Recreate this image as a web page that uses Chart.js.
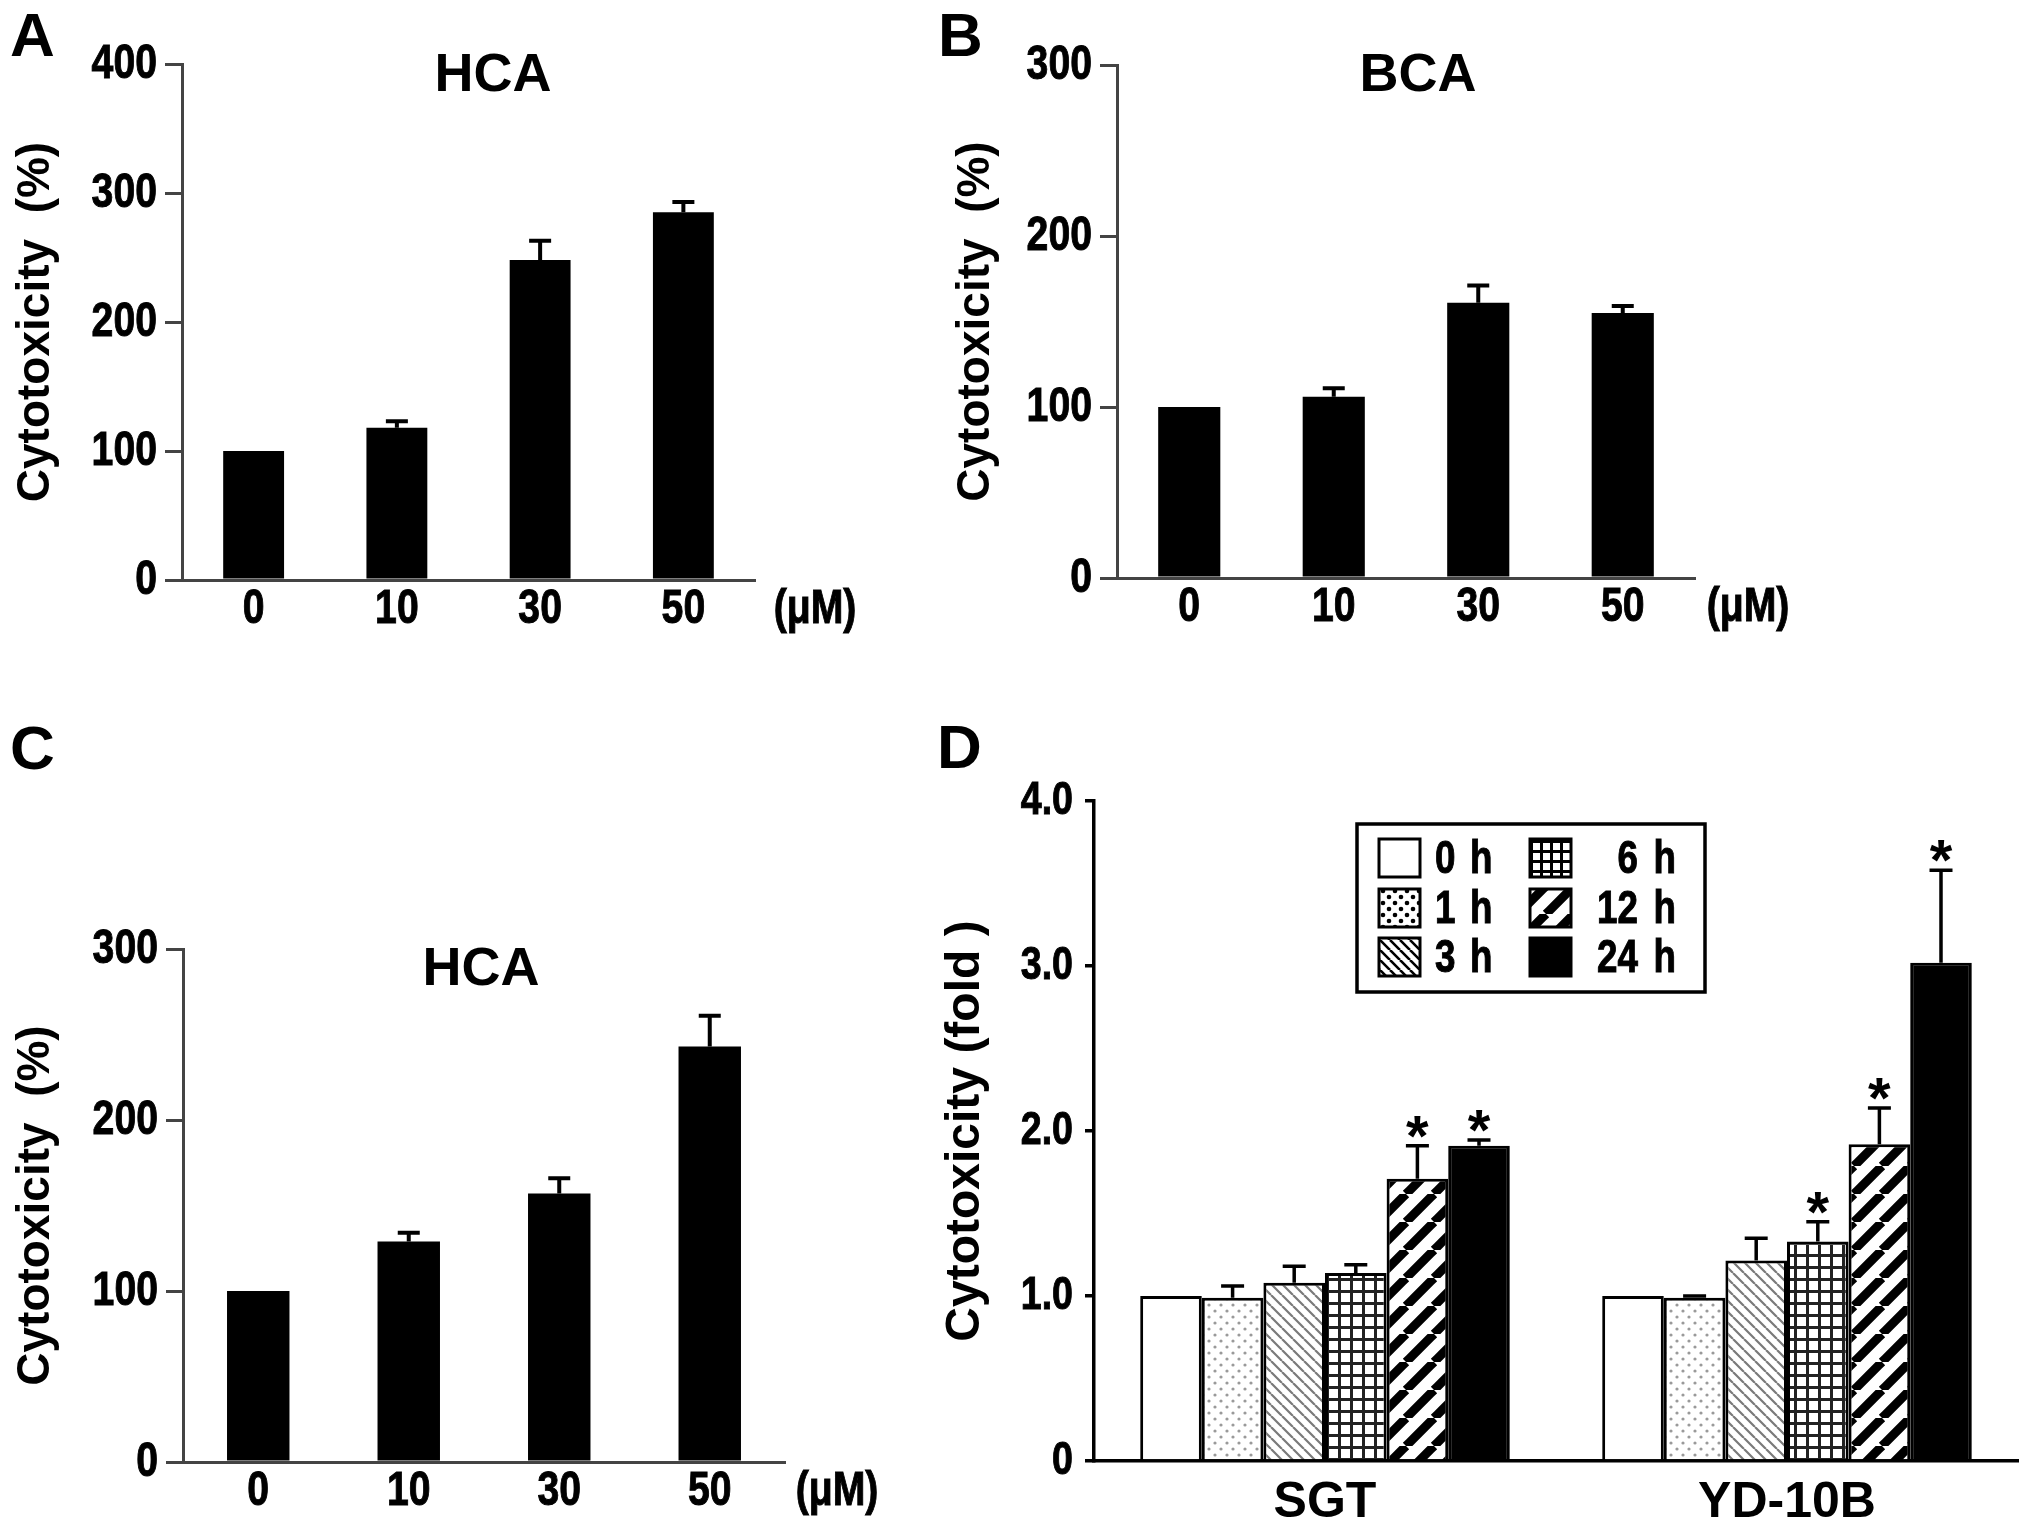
<!DOCTYPE html>
<html>
<head>
<meta charset="utf-8">
<script src="https://cdn.jsdelivr.net/npm/chart.js@4.4.1/dist/chart.umd.min.js"></script>
<style>
    html, body { margin: 0; padding: 0; background: #fff; }
    body { width: 2031px; height: 1527px; position: relative; overflow: hidden; }
    canvas { position: absolute; }
</style>
</head>
<body>
<canvas id="panelA" width="900" height="700" style="left:0px;top:0px"></canvas>
<canvas id="panelB" width="900" height="700" style="left:940px;top:0px"></canvas>
<canvas id="panelC" width="900" height="837" style="left:0px;top:690px"></canvas>
<canvas id="panelD" width="1101" height="837" style="left:930px;top:690px"></canvas>
<script>
// ============================================================
// DATA
// ============================================================
const doses = ['0', '10', '30', '50'];

const hcaA = [100, 118, 248, 285];
const hcaAErr = [0, 5, 15, 8];

const bcaB = [100, 106, 161, 155];
const bcaBErr = [0, 5, 10, 4];

const hcaC = [100, 129, 157, 243];
const hcaCErr = [0, 5, 9, 18];

const timeLabels = ['0 h', '1 h', '3 h', '6 h', '12 h', '24 h'];
const cellLines = ['SGT', 'YD-10B'];
const sgtMean = [1.0, 0.99, 1.08, 1.14, 1.71, 1.91];
const sgtErr = [0, 0.07, 0.10, 0.05, 0.20, 0.035];
const sgtSig = [false, false, false, false, true, true];
const ydMean = [1.0, 0.99, 1.215, 1.33, 1.92, 3.02];
const ydErr = [0, 0.01, 0.135, 0.12, 0.22, 0.56];
const ydSig = [false, false, false, true, true, true];

const percentTicks = [0, 100, 200, 300, 400];
const foldTicks = [0, 1, 2, 3, 4];

// ============================================================
// FONTS
// ============================================================
// no narrow face is installed, so narrow text is Liberation Sans squeezed
const SANS = '"Liberation Sans", Arial, sans-serif';
const SQUEEZE = 0.8;

function drawNarrow(ctx, text, x, y, size, align) {
    ctx.save();
    ctx.translate(x, y);
    ctx.scale(SQUEEZE, 1);
    ctx.fillStyle = '#000';
    ctx.strokeStyle = '#000';
    ctx.lineWidth = 1;
    ctx.font = 'bold ' + size + 'px ' + SANS;
    ctx.textAlign = align;
    ctx.textBaseline = 'middle';
    ctx.fillText(text, 0, 0);
    ctx.strokeText(text, 0, 0);
    ctx.restore();
}

// ============================================================
// PATTERNS
// ============================================================
function makePattern(size, draw) {
    const c = document.createElement('canvas');
    c.width = size; c.height = size;
    const g = c.getContext('2d');
    g.fillStyle = '#fff';
    g.fillRect(0, 0, size, size);
    draw(g, size);
    return g.createPattern(c, 'repeat');
}

function dots(color, r) {
    return makePattern(12, (g) => {
        g.fillStyle = color;
        [[3, 3], [9, 9]].forEach(([x, y]) => { g.beginPath(); g.arc(x, y, r, 0, Math.PI * 2); g.fill(); });
    });
}

function backDiag(color, s, w) {
    return makePattern(s, (g) => {
        g.strokeStyle = color; g.lineWidth = w;
        g.beginPath();
        for (let k = -1; k <= 1; k++) { g.moveTo(k * s, 0); g.lineTo(k * s + s, s); }
        g.stroke();
    });
}

function fwdDiag(color, s, w) {
    return makePattern(s, (g) => {
        g.strokeStyle = color; g.lineWidth = w;
        g.beginPath();
        for (let k = -1; k <= 1; k++) { g.moveTo(k * s, s); g.lineTo(k * s + s, 0); }
        g.stroke();
    });
}

function grid(color, s, w) {
    return makePattern(s, (g) => {
        g.strokeStyle = color; g.lineWidth = w;
        g.beginPath();
        g.moveTo(w / 2, 0); g.lineTo(w / 2, s);
        g.moveTo(0, w / 2); g.lineTo(s, w / 2);
        g.stroke();
    });
}

const barFills = [
    '#ffffff',
    dots('#9a9a9a', 1.6),
    backDiag('#7a7a7a', 11, 2.2),
    grid('#222', 12, 3),
    fwdDiag('#000', 28, 9),
    '#000000'
];

const legendFills = [
    '#ffffff',
    dots('#000', 2.3),
    backDiag('#000', 10, 2.6),
    grid('#000', 10, 3),
    fwdDiag('#000', 28, 9),
    '#000000'
];

// ============================================================
// PLUGINS
// ============================================================
const errorBars = {
    id: 'errorBars',
    afterDatasetsDraw(chart, args, opts) {
        const ctx = chart.ctx;
        const yScale = chart.scales.y;
        chart.data.datasets.forEach((ds, di) => {
            const meta = chart.getDatasetMeta(di);
            meta.data.forEach((bar, i) => {
                const e = ds.errors ? ds.errors[i] : 0;
                const top = yScale.getPixelForValue(ds.data[i] + e);
                ctx.save();
                ctx.strokeStyle = '#000';
                ctx.lineWidth = opts.width;
                if (e > 0) {
                    ctx.beginPath();
                    ctx.moveTo(bar.x, bar.y);
                    ctx.lineTo(bar.x, top);
                    ctx.moveTo(bar.x - opts.cap / 2, top);
                    ctx.lineTo(bar.x + opts.cap / 2, top);
                    ctx.stroke();
                }
                if (ds.stars && ds.stars[i]) {
                    ctx.fillStyle = '#000';
                    ctx.font = 'bold 58px ' + SANS;
                    ctx.textAlign = 'center';
                    ctx.textBaseline = 'alphabetic';
                    ctx.fillText('*', bar.x, top + 10);
                }
                ctx.restore();
            });
        });
    }
};

// tick labels in the narrow face, placed from the chart's own scales
const narrowTicks = {
    id: 'narrowTicks',
    afterDraw(chart, args, opts) {
        const ctx = chart.ctx;
        const ys = chart.scales.y, xs = chart.scales.x;
        if (opts.y) {
            ys.ticks.forEach(t => {
                drawNarrow(ctx, opts.y.format(t.value), ys.right - opts.y.gap, ys.getPixelForValue(t.value), opts.y.size, 'right');
            });
        }
        if (opts.x) {
            chart.data.labels.forEach((lab, i) => {
                drawNarrow(ctx, lab, xs.getPixelForTick(i), xs.top + opts.x.offset, opts.x.size, 'center');
            });
            if (opts.x.unit) {
                drawNarrow(ctx, opts.x.unit, opts.x.unitX - opts.ox, xs.top + opts.x.offset, opts.x.size, 'center');
            }
        }
    }
};

// letter and title of each panel
const panelText = {
    id: 'panelText',
    afterDraw(chart, args, opts) {
        const ctx = chart.ctx;
        (opts.items || []).forEach(t => {
            ctx.save();
            ctx.fillStyle = '#000';
            ctx.font = t.font;
            ctx.textAlign = t.align || 'left';
            ctx.textBaseline = 'alphabetic';
            ctx.fillText(t.text, t.x - opts.ox, t.y - opts.oy);
            ctx.restore();
        });
    }
};

const boxLegend = {
    id: 'boxLegend',
    afterDraw(chart, args, opts) {
        if (!opts.display) return;
        const ctx = chart.ctx;
        const ox = opts.ox, oy = opts.oy;
        ctx.save();
        ctx.strokeStyle = '#000';
        ctx.lineWidth = 3.5;
        ctx.fillStyle = '#fff';
        ctx.fillRect(1357 - ox, 824 - oy, 348, 168);
        ctx.strokeRect(1357 - ox, 824 - oy, 348, 168);
        const rows = [858, 908, 957];
        const swX = [1379, 1530];
        timeLabels.forEach((lab, i) => {
            const col = Math.floor(i / 3), row = i % 3;
            const cy = rows[row] - oy;
            const sx = swX[col] - ox;
            ctx.fillStyle = legendFills[i];
            ctx.fillRect(sx, cy - 19, 41, 38);
            ctx.strokeStyle = '#000';
            ctx.lineWidth = 3;
            ctx.strokeRect(sx, cy - 19, 41, 38);
            const parts = lab.split(' ');
            if (col === 0) {
                drawNarrow(ctx, parts[0], 1435 - ox, cy + 2, 46, 'left');
                drawNarrow(ctx, parts[1], 1470 - ox, cy + 2, 46, 'left');
            } else {
                drawNarrow(ctx, parts[1], 1676 - ox, cy + 2, 46, 'right');
                drawNarrow(ctx, parts[0], 1638 - ox, cy + 2, 46, 'right');
            }
        });
        ctx.restore();
    }
};

// ============================================================
// BUILDERS
// ============================================================
function percentChart(id, box, values, errs, maxY, barPct, texts, unitX) {
    const axisColor = '#444';
    return new Chart(document.getElementById(id), {
        type: 'bar',
        data: {
            labels: doses,
            datasets: [{
                data: values,
                errors: errs,
                backgroundColor: '#000',
                borderWidth: 0,
                barPercentage: barPct,
                categoryPercentage: 1
            }]
        },
        options: {
            responsive: false,
            animation: false,
            events: [],
            layout: { autoPadding: false, padding: { left: 0, top: box.top, right: box.right, bottom: 0 } },
            plugins: {
                legend: { display: false },
                tooltip: { enabled: false },
                errorBars: { width: 4, cap: 22 },
                panelText: { ox: box.ox, oy: box.oy, items: texts },
                narrowTicks: {
                    ox: box.ox,
                    y: { size: 49, gap: 25, format: (v) => String(v) },
                    x: { size: 49, offset: 29, unit: '(μM)', unitX: unitX }
                },
                boxLegend: { display: false }
            },
            scales: {
                x: {
                    grid: { display: false },
                    border: { display: true, color: axisColor, width: 3 },
                    ticks: { color: 'rgba(0,0,0,0)', font: { size: 40 } },
                    afterFit: (s) => { s.height = box.xh; }
                },
                y: {
                    min: 0,
                    max: maxY,
                    afterBuildTicks: (s) => { s.ticks = percentTicks.filter(v => v <= maxY).map(v => ({ value: v })); },
                    grid: { drawOnChartArea: false, drawTicks: true, tickLength: 17, color: axisColor, lineWidth: 3 },
                    border: { display: true, color: axisColor, width: 3 },
                    ticks: { color: 'rgba(0,0,0,0)', font: { size: 40 } },
                    title: {
                        display: true,
                        text: 'Cytotoxicity  (%)',
                        color: '#000',
                        font: { family: SANS, size: 46, weight: 'bold' },
                        padding: { top: 9, bottom: 0 }
                    },
                    afterFit: (s) => { s.width = box.yw; }
                }
            }
        },
        plugins: [errorBars, narrowTicks, panelText, boxLegend]
    });
}

// ============================================================
// PANELS A, B, C
// ============================================================
const LETTER = 'bold 62px ' + SANS;
const TITLE = 'bold 54px ' + SANS;

percentChart('panelA', { ox: 0, oy: 0, top: 64, right: 145, xh: 120, yw: 182 }, hcaA, hcaAErr, 400, 0.425, [
    { text: 'A', x: 10, y: 56, font: LETTER },
    { text: 'HCA', x: 493, y: 91, font: TITLE, align: 'center' }
], 815);

percentChart('panelB', { ox: 940, oy: 0, top: 65, right: 145, xh: 122, yw: 177 }, bcaB, bcaBErr, 300, 0.43, [
    { text: 'B', x: 938, y: 56, font: LETTER },
    { text: 'BCA', x: 1418, y: 91, font: TITLE, align: 'center' }
], 1748);

percentChart('panelC', { ox: 0, oy: 690, top: 259, right: 115, xh: 65, yw: 183 }, hcaC, hcaCErr, 300, 0.415, [
    { text: 'C', x: 10, y: 769, font: LETTER },
    { text: 'HCA', x: 481, y: 985, font: TITLE, align: 'center' }
], 837);

// ============================================================
// PANEL D
// ============================================================
const dDatasets = timeLabels.map((t, i) => ({
    label: t,
    data: [sgtMean[i], ydMean[i]],
    errors: [sgtErr[i], ydErr[i]],
    stars: [sgtSig[i], ydSig[i]],
    backgroundColor: barFills[i],
    borderColor: '#000',
    borderWidth: 3,
    barPercentage: 1,
    categoryPercentage: 0.8
}));

new Chart(document.getElementById('panelD'), {
    type: 'bar',
    data: { labels: cellLines, datasets: dDatasets },
    options: {
        responsive: false,
        animation: false,
        events: [],
        layout: { autoPadding: false, padding: { left: 0, top: 111, right: 13, bottom: 0 } },
        plugins: {
            legend: { display: false },
            tooltip: { enabled: false },
            errorBars: { width: 3.5, cap: 23 },
            panelText: { ox: 930, oy: 690, items: [{ text: 'D', x: 937, y: 768, font: LETTER }] },
            narrowTicks: {
                ox: 930,
                y: { size: 47, gap: 21, format: (v) => v === 0 ? '0' : Number(v).toFixed(1) }
            },
            boxLegend: { display: true, ox: 930, oy: 690 }
        },
        scales: {
            x: {
                grid: { display: false },
                border: { display: true, color: '#000', width: 3.5 },
                ticks: { color: '#000', font: { family: SANS, size: 50, weight: 'bold' }, padding: 4 },
                afterFit: (s) => { s.height = 66; }
            },
            y: {
                min: 0,
                max: 4,
                afterBuildTicks: (s) => { s.ticks = foldTicks.map(v => ({ value: v })); },
                grid: { drawOnChartArea: false, drawTicks: true, tickLength: 9, color: '#000', lineWidth: 3.5 },
                border: { display: true, color: '#000', width: 3.5 },
                ticks: { color: 'rgba(0,0,0,0)', font: { size: 40 } },
                title: {
                    display: true,
                    text: 'Cytotoxicity (fold )',
                    color: '#000',
                    font: { family: SANS, size: 48, weight: 'bold' },
                    padding: { top: 7, bottom: 0 }
                },
                afterFit: (s) => { s.width = 164; }
            }
        }
    },
    plugins: [errorBars, narrowTicks, panelText, boxLegend]
});
</script>
</body>
</html>
